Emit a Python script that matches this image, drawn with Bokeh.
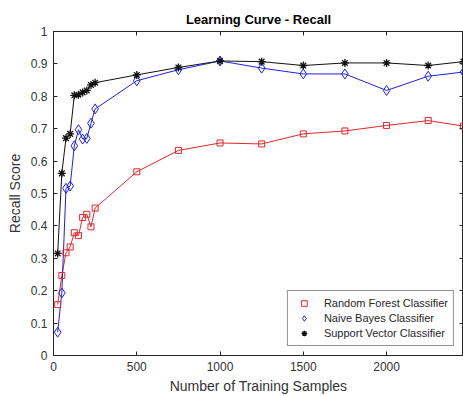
from bokeh.plotting import figure
from bokeh.models import LinearAxis, Legend, LegendItem, Range1d, FixedTicker
from bokeh.embed import file_html
from bokeh.resources import INLINE

samples = [25, 50, 75, 100, 125, 150, 175, 200, 225, 250, 500, 750, 1000, 1250, 1500, 1750, 2000, 2250, 2462]
rf_recall = [0.157, 0.247, 0.317, 0.335, 0.379, 0.370, 0.426, 0.436, 0.397, 0.455, 0.567, 0.633, 0.656, 0.653, 0.684, 0.693, 0.710, 0.725, 0.708]
nb_recall = [0.072, 0.193, 0.516, 0.523, 0.647, 0.697, 0.668, 0.670, 0.717, 0.761, 0.848, 0.882, 0.909, 0.887, 0.869, 0.869, 0.818, 0.862, 0.875]
svc_recall = [0.315, 0.562, 0.671, 0.684, 0.803, 0.805, 0.812, 0.818, 0.835, 0.842, 0.866, 0.889, 0.909, 0.907, 0.895, 0.903, 0.903, 0.895, 0.907]
x_ticks = [0, 500, 1000, 1500, 2000]
y_ticks = [0, 0.1, 0.2, 0.3, 0.4, 0.5, 0.6, 0.7, 0.8, 0.9, 1.0]
y_labels = {0: "0", 0.1: "0.1", 0.2: "0.2", 0.3: "0.3", 0.4: "0.4", 0.5: "0.5",
            0.6: "0.6", 0.7: "0.7", 0.8: "0.8", 0.9: "0.9", 1.0: "1"}

FONT = "Liberation Sans"
AX = "#262626"

p = figure(width=463, height=396, output_backend="svg", toolbar_location=None,
           x_range=Range1d(0, 2462), y_range=Range1d(0, 1),
           min_border_left=53, min_border_right=0, min_border_top=31, min_border_bottom=41,
           x_axis_label="Number of Training Samples", y_axis_label="Recall Score")
p.title.text = "Learning Curve - Recall"
p.title.align = "center"
p.title.text_font = FONT
p.title.text_font_size = "13px"
p.title.text_font_style = "bold"
p.title.text_color = "#000000"
p.grid.visible = False
p.outline_line_color = AX
p.background_fill_color = "white"
p.border_fill_color = "white"

for ax in (p.xaxis[0], p.yaxis[0]):
    ax.major_tick_in = 4
    ax.major_tick_out = 0
    ax.minor_tick_line_color = None
    ax.axis_line_color = AX
    ax.major_tick_line_color = AX
    ax.major_label_text_font = FONT
    ax.major_label_text_font_size = "12px"
    ax.major_label_text_color = "#333333"
    ax.axis_label_text_font = FONT
    ax.axis_label_text_font_size = "14px"
    ax.axis_label_text_font_style = "normal"
    ax.axis_label_text_color = "#333333"

p.xaxis[0].ticker = FixedTicker(ticks=x_ticks)
p.yaxis[0].ticker = FixedTicker(ticks=y_ticks)
p.yaxis[0].major_label_overrides = y_labels
p.xaxis[0].axis_label_standoff = 4
p.yaxis[0].axis_label_standoff = 5
p.xaxis[0].major_label_standoff = 6
p.yaxis[0].major_label_standoff = 6

top = LinearAxis(ticker=FixedTicker(ticks=x_ticks),
                 major_label_overrides={t: "" for t in x_ticks},
                 major_tick_in=4, major_tick_out=0, minor_tick_line_color=None,
                 axis_line_color=AX, major_tick_line_color=AX, major_label_standoff=0)
right = LinearAxis(ticker=FixedTicker(ticks=y_ticks),
                   major_label_overrides={t: "" for t in y_ticks},
                   major_tick_in=4, major_tick_out=0, minor_tick_line_color=None,
                   axis_line_color=AX, major_tick_line_color=AX, major_label_standoff=0)
p.add_layout(top, "above")
p.add_layout(right, "right")

RED = "#e8252a"
BLUE = "#1f1fe6"
BLACK = "#111111"

p.line(samples, rf_recall, line_color=RED, line_width=1)
p.line(samples, nb_recall, line_color=BLUE, line_width=1)
p.line(samples, svc_recall, line_color=BLACK, line_width=1)
r1 = p.scatter(samples, rf_recall, marker="square", size=6, fill_color=None, line_color=RED, line_width=1)
r2 = p.scatter(samples, nb_recall, marker="diamond", size=10, fill_color=None, line_color=BLUE, line_width=1)
r3 = p.scatter(samples, svc_recall, marker="asterisk", size=8, line_color=BLACK, line_width=1.3)

legend = Legend(items=[
    LegendItem(label="Random Forest Classifier", renderers=[r1]),
    LegendItem(label="Naive Bayes Classifier", renderers=[r2]),
    LegendItem(label="Support Vector Classifier", renderers=[r3]),
], location="bottom_right")
legend.label_text_font = FONT
legend.label_text_font_size = "11px"
legend.label_text_color = AX
legend.border_line_color = AX
legend.border_line_width = 1
legend.background_fill_alpha = 1
legend.glyph_width = 22
legend.glyph_height = 14
legend.label_height = 14
legend.spacing = 1
legend.padding = 5
legend.margin = 9
legend.label_standoff = 9
p.add_layout(legend)

open("out.html", "w").write(file_html(p, INLINE))
